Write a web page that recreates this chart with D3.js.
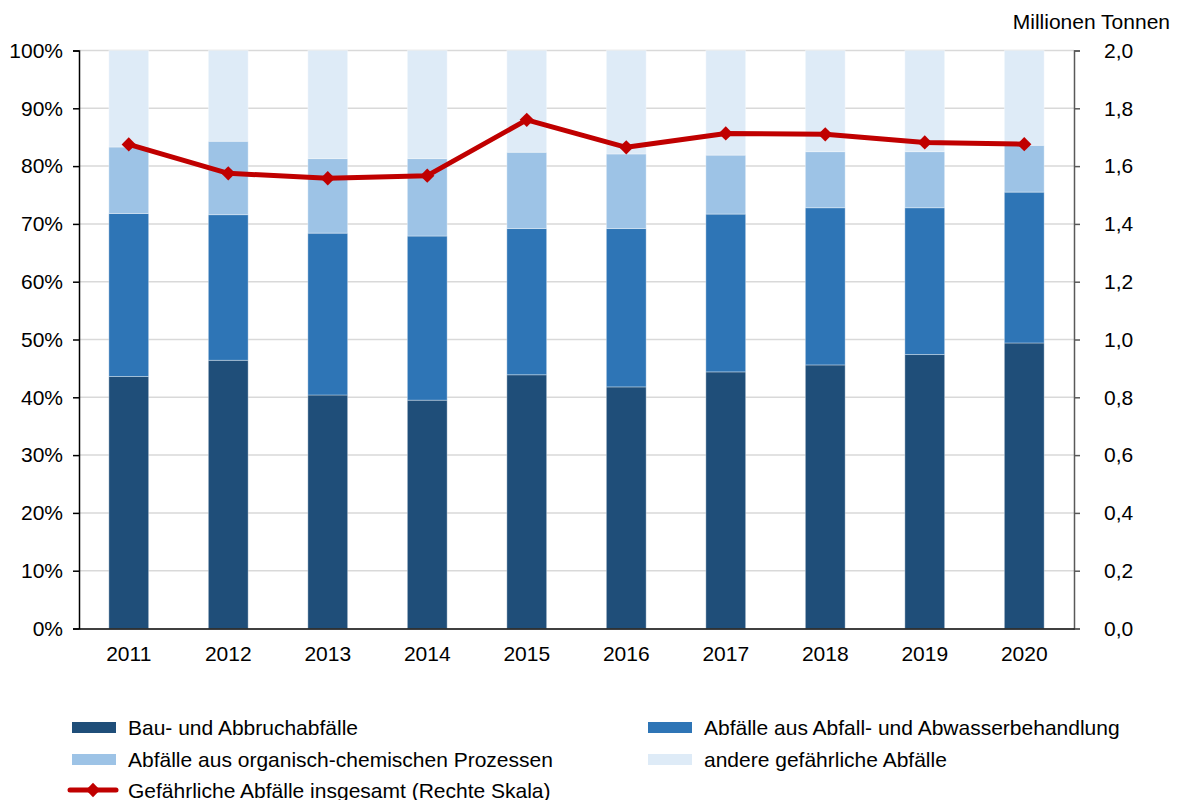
<!DOCTYPE html>
<html>
<head>
<meta charset="utf-8">
<script src="https://cdn.jsdelivr.net/npm/d3@7"></script>
<style>
  body { margin: 0; background: #fff; }
  svg { font-family: "Liberation Sans", Arial, sans-serif; }
</style>
</head>
<body>
<div id="chart"></div>
<script>
// data (shares in %, total in million tonnes)
const years = ["2011", "2012", "2013", "2014", "2015", "2016", "2017", "2018", "2019", "2020"];
const bau = [43.6, 46.4, 40.4, 39.5, 43.9, 41.8, 44.4, 45.6, 47.4, 49.4];
const abwasser = [28.2, 25.2, 28.0, 28.4, 25.3, 27.4, 27.3, 27.2, 25.4, 26.1];
const organisch = [11.5, 12.7, 12.9, 13.4, 13.2, 12.9, 10.2, 9.7, 9.7, 8.1];
const andere = [16.7, 15.7, 18.7, 18.7, 17.6, 17.9, 18.1, 17.5, 17.5, 16.4];
const insgesamt = [1.675, 1.575, 1.558, 1.567, 1.76, 1.665, 1.713, 1.71, 1.682, 1.676];

const seriesNames = ["Bau- und Abbruchabfälle", "Abfälle aus Abfall- und Abwasserbehandlung",
  "Abfälle aus organisch-chemischen Prozessen", "andere gefährliche Abfälle"];
const lineName = "Gefährliche Abfälle insgesamt (Rechte Skala)";
const colors = ["#1f4e79", "#2e75b6", "#9dc3e6", "#deebf7"];
const red = "#c00000";

const width = 1178, height = 800;
const plotLeft = 79, plotRight = 1074, plotTop = 50.5, plotBottom = 628.5;
const fontSize = 21;

const svg = d3.select("#chart").append("svg")
  .attr("width", width)
  .attr("height", height);

const table = years.map((y, i) => ({
  year: y, s0: bau[i], s1: abwasser[i], s2: organisch[i], s3: andere[i]
}));
const stacked = d3.stack().keys(["s0", "s1", "s2", "s3"])(table);

const x = d3.scaleBand().domain(years).range([plotLeft, plotRight]).paddingInner(0.6).paddingOuter(0.3);
const yL = d3.scaleLinear().domain([0, 100]).range([plotBottom, plotTop]);
const yR = d3.scaleLinear().domain([0, 2]).range([plotBottom, plotTop]);

// gridlines
svg.append("g")
  .selectAll("line")
  .data(d3.range(10, 101, 10))
  .enter().append("line")
  .attr("x1", plotLeft).attr("x2", plotRight)
  .attr("y1", d => yL(d)).attr("y2", d => yL(d))
  .attr("stroke", "#d9d9d9")
  .attr("stroke-width", 1.5);

// stacked bars
svg.append("g")
  .selectAll("g")
  .data(stacked)
  .enter().append("g")
  .attr("fill", (d, i) => colors[i])
  .selectAll("rect")
  .data(d => d)
  .enter().append("rect")
  .attr("x", d => x(d.data.year))
  .attr("width", x.bandwidth())
  .attr("y", d => yL(d[1]))
  .attr("height", d => yL(d[0]) - yL(d[1]))
  .attr("stroke", "rgba(255,255,255,0.35)")
  .attr("stroke-width", 1);

// axes
const axL = svg.append("g")
  .attr("transform", `translate(${plotLeft},0)`)
  .call(d3.axisLeft(yL).tickValues(d3.range(0, 101, 10)).tickFormat(d => d + "%").tickSize(6).tickPadding(10));
axL.select(".domain").attr("stroke", "#000").attr("stroke-width", 1.5);
axL.selectAll(".tick line").attr("stroke", "#000").attr("stroke-width", 1.5);
axL.selectAll("text").attr("font-size", fontSize).attr("fill", "#000").attr("font-family", "Liberation Sans, Arial, sans-serif");

const axR = svg.append("g")
  .attr("transform", `translate(${plotRight},0)`)
  .call(d3.axisRight(yR).tickValues(d3.range(0, 2.01, 0.2)).tickFormat(d => d3.format(".1f")(d).replace(".", ",")).tickSize(6).tickPadding(24));
axR.select(".domain").attr("stroke", "#595959").attr("stroke-width", 1.5);
axR.selectAll(".tick line").attr("stroke", "#595959").attr("stroke-width", 1.5);
axR.selectAll("text").attr("font-size", fontSize).attr("fill", "#000").attr("font-family", "Liberation Sans, Arial, sans-serif");

const axB = svg.append("g")
  .attr("transform", `translate(0,${plotBottom})`)
  .call(d3.axisBottom(x).tickSize(0).tickPadding(18));
axB.select(".domain").attr("stroke", "#000").attr("stroke-width", 1.5);
axB.selectAll("text").attr("font-size", fontSize).attr("fill", "#000").attr("font-family", "Liberation Sans, Arial, sans-serif");

svg.append("text")
  .attr("x", 1170).attr("y", 29)
  .attr("text-anchor", "end")
  .attr("font-size", fontSize)
  .text("Millionen Tonnen");

// line on right scale
const cx = d => x(d) + x.bandwidth() / 2;
const line = d3.line().x((d, i) => cx(years[i])).y(d => yR(d));
svg.append("path")
  .datum(insgesamt)
  .attr("d", line)
  .attr("fill", "none")
  .attr("stroke", red)
  .attr("stroke-width", 5)
  .attr("stroke-linejoin", "round");

const diamond = d3.symbol().type(d3.symbolDiamond2).size(130);
svg.append("g")
  .selectAll("path")
  .data(insgesamt)
  .enter().append("path")
  .attr("d", diamond)
  .attr("transform", (d, i) => `translate(${cx(years[i])},${yR(d)})`)
  .attr("fill", red);

// legend
const legend = [
  { name: seriesNames[0], color: colors[0], lx: 72, ly: 727 },
  { name: seriesNames[1], color: colors[1], lx: 648, ly: 727 },
  { name: seriesNames[2], color: colors[2], lx: 72, ly: 759 },
  { name: seriesNames[3], color: colors[3], lx: 648, ly: 759 }
];
const lg = svg.append("g");
legend.forEach(l => {
  lg.append("rect")
    .attr("x", l.lx).attr("y", l.ly - 5)
    .attr("width", 44).attr("height", 11)
    .attr("fill", l.color);
  lg.append("text")
    .attr("x", l.lx + 56).attr("y", l.ly + 8)
    .attr("font-size", fontSize)
    .text(l.name);
});
lg.append("line")
  .attr("x1", 70).attr("x2", 116)
  .attr("y1", 790).attr("y2", 790)
  .attr("stroke", red).attr("stroke-width", 5).attr("stroke-linecap", "round");
lg.append("path")
  .attr("d", diamond)
  .attr("transform", "translate(93,790)")
  .attr("fill", red);
lg.append("text")
  .attr("x", 128).attr("y", 798)
  .attr("font-size", fontSize)
  .text(lineName);
</script>
</body>
</html>
